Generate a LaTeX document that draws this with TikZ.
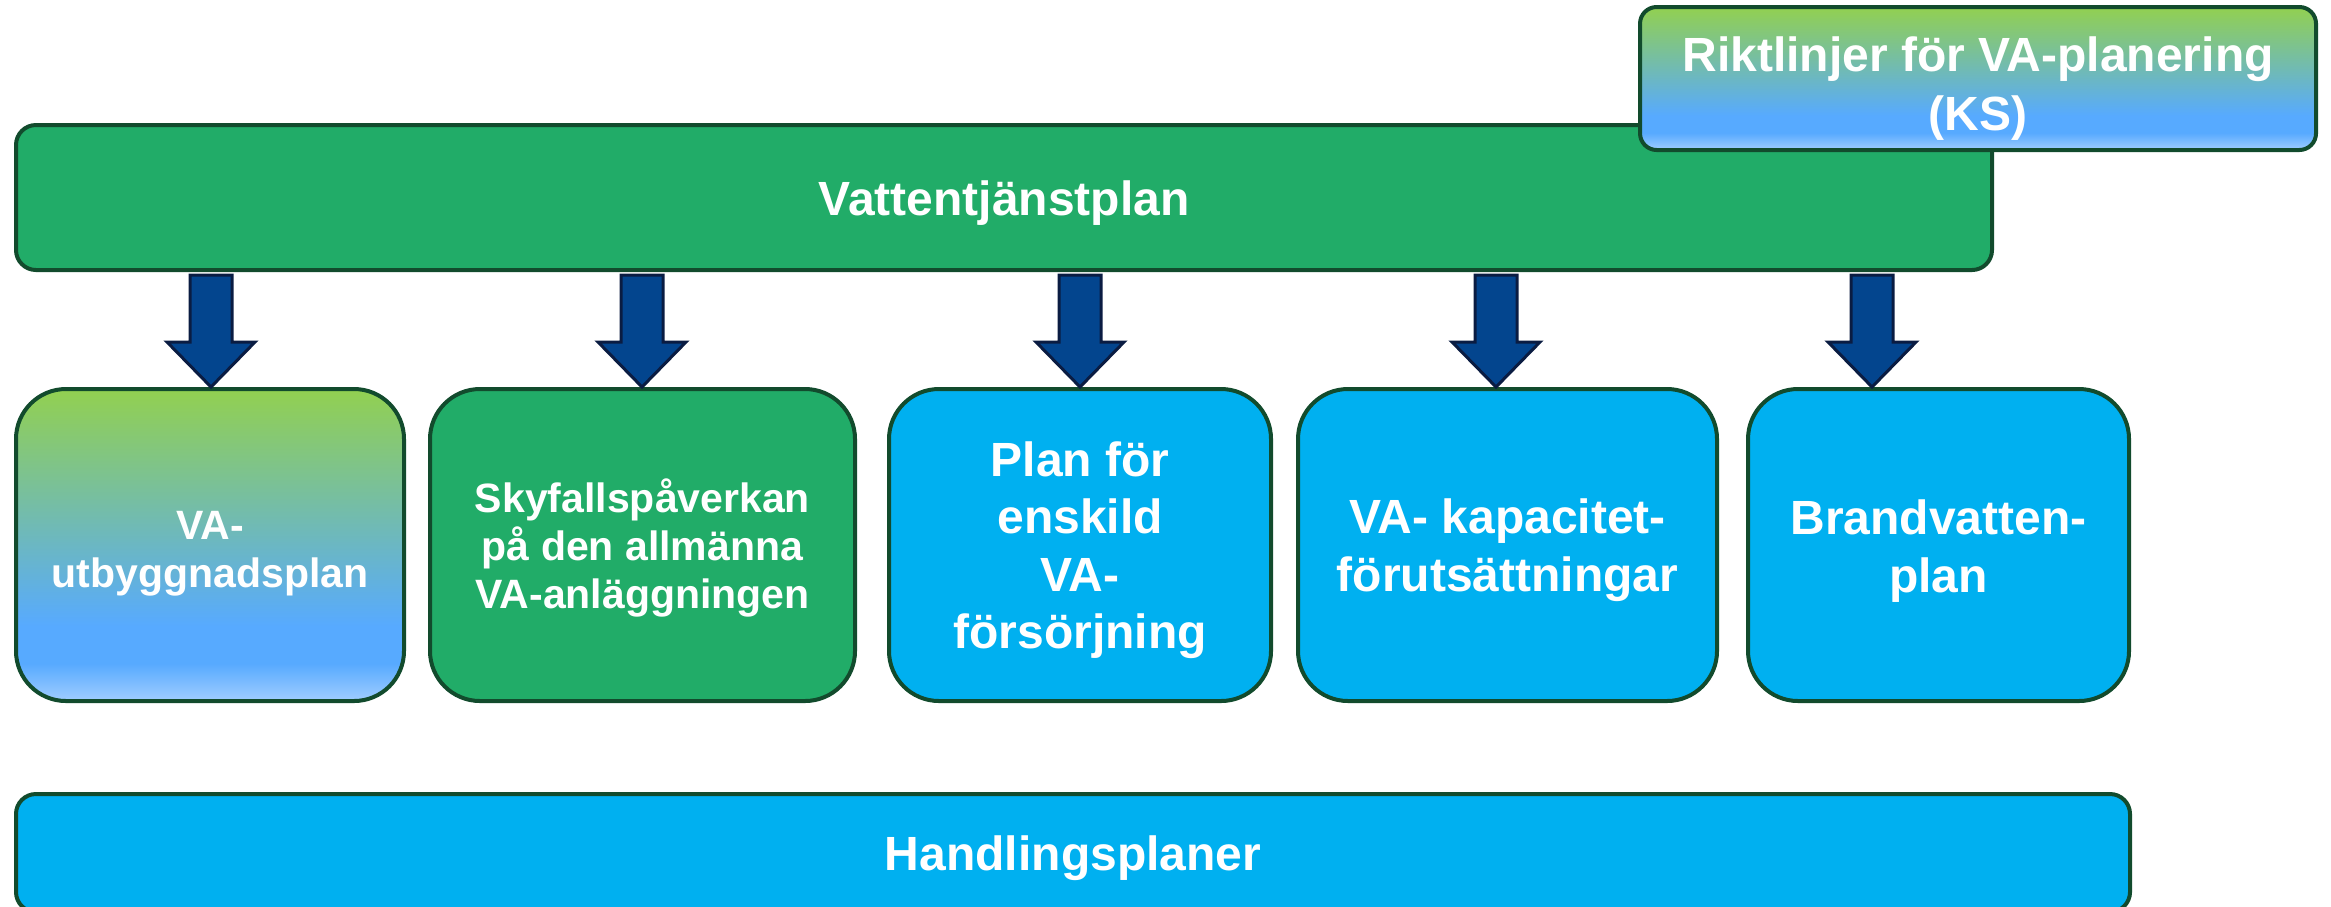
\documentclass[tikz,border=0pt]{standalone}
\usepackage{fontspec}
\setmainfont{Liberation Sans}
\usetikzlibrary{calc}
\definecolor{vgreen}{RGB}{33,172,104}
\definecolor{vborder}{RGB}{18,75,45}
\definecolor{vblue}{RGB}{0,176,240}
\definecolor{afill}{RGB}{3,69,142}
\definecolor{aline}{RGB}{10,28,66}
\definecolor{gGreen}{RGB}{146,208,80}
\definecolor{gBlue}{RGB}{87,170,255}
\definecolor{gLight}{RGB}{160,205,255}
\pgfdeclareverticalshading{vagrad}{100bp}{color(0bp)=(gLight); color(25bp)=(gLight); color(31bp)=(gBlue); color(37bp)=(gBlue); color(75bp)=(gGreen); color(100bp)=(gGreen)}
\newcommand\txtlift[1]{\rule{0pt}{#1}}
\begin{document}
\begin{tikzpicture}[x=0.3pt,y=-0.3pt,
  box/.style={draw=vborder, line width=1.2pt, text=white, align=center, inner sep=0pt,
    font=\bfseries\fontsize{14.4pt}{17.25pt}\selectfont},
  smalltext/.style={font=\bfseries\fontsize{12.3pt}{14.4pt}\selectfont},
  sz/.style 2 args={minimum width=#1*0.3pt, minimum height=#2*0.3pt},
  gradbox/.style={shade, shading=vagrad},
  barrow/.style={draw=aline, fill=afill, line width=0.9pt}]
\useasboundingbox (0,0) rectangle (2331,906);
\clip (0,0) rectangle (2331,906);

\node[box, fill=vgreen, rounded corners=6pt, sz={1976}{145}] (vat) at (1004,197.5) {\txtlift{13.5pt}Vattentjänstplan};
\node[box, gradbox, rounded corners=5pt, sz={676}{143}, font=\bfseries\fontsize{14.4pt}{17.7pt}\selectfont] (rik) at (1978,78.5) {\txtlift{16.5pt}Riktlinjer för VA-planering\\(KS)};

\node[box, gradbox, smalltext, rounded corners=15pt, sz={388}{312}] (b1) at (210,545) {\txtlift{13.4pt}VA-\\utbyggnadsplan};
\node[box, fill=vgreen, smalltext, rounded corners=15pt, sz={425}{312}] (b2) at (642.5,545) {\txtlift{12pt}Skyfallspåverkan\\på den allmänna\\VA-anläggningen};
\node[box, fill=vblue, rounded corners=15pt, sz={382}{312}] (b3) at (1080,545) {\txtlift{13.5pt}Plan för\\enskild\\VA-\\försörjning};
\node[box, fill=vblue, rounded corners=15pt, sz={419}{312}] (b4) at (1507.5,545) {\txtlift{13.5pt}VA- kapacitet-\\förutsättningar};
\node[box, fill=vblue, rounded corners=15pt, sz={381}{312}] (b5) at (1938.5,545) {\txtlift{14pt}Brandvatten-\\plan};

\node[box, fill=vblue, rounded corners=6pt, sz={2114}{118}] (hp) at (1073,853) {\txtlift{13.5pt}Handlingsplaner};

\coordinate (a1) at (211,0);
\coordinate (a2) at (642,0);
\coordinate (a3) at (1080,0);
\coordinate (a4) at (1496,0);
\coordinate (a5) at (1872,0);

\foreach \a/\b in {a1/b1,a2/b2,a3/b3,a4/b4,a5/b5}{
  \draw[barrow] let \p1=(vat.south -| \a), \p2=(\b.north -| \a) in
    (\x1-6.3pt,\y1-0.9pt) -- (\x1+6.3pt,\y1-0.9pt) -- (\x1+6.3pt,\y2+13.5pt)
    -- (\x1+13.2pt,\y2+13.5pt) -- (\x2,\y2) -- (\x1-13.2pt,\y2+13.5pt)
    -- (\x1-6.3pt,\y2+13.5pt) -- cycle;
}
\end{tikzpicture}
\end{document}
